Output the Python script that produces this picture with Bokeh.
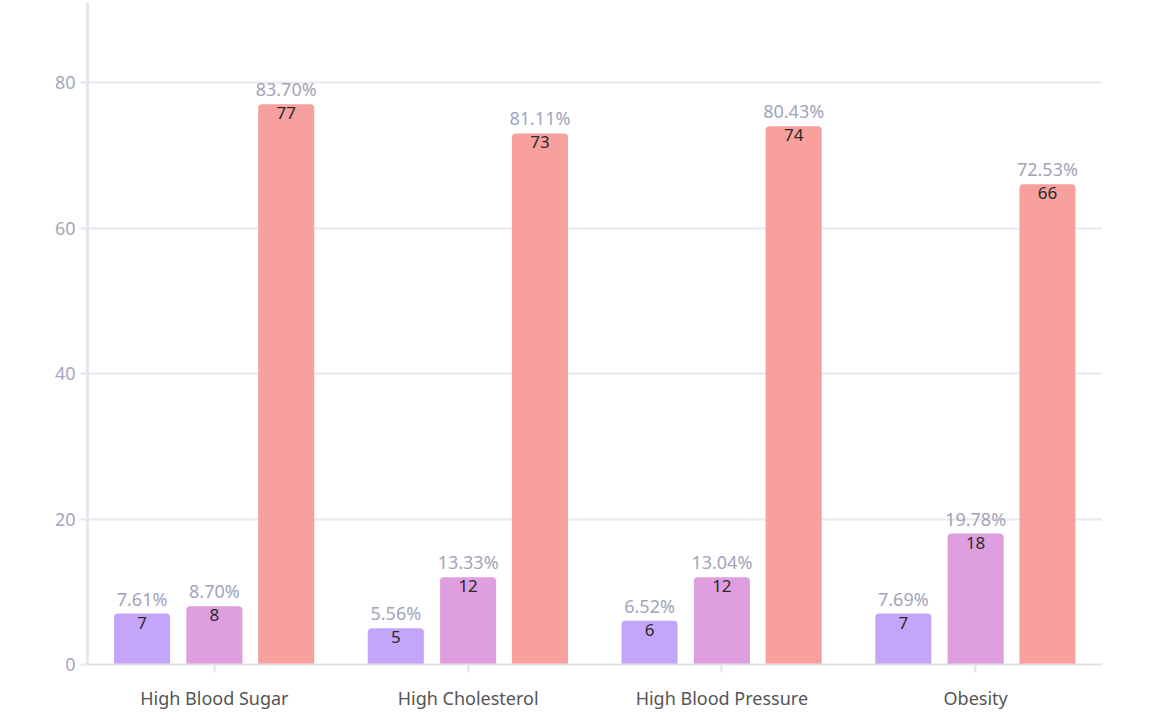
from bokeh.plotting import figure
from bokeh.models import ColumnDataSource, FactorRange, Range1d, FixedTicker
from bokeh.transform import dodge
from bokeh.core.properties import value
from bokeh.embed import file_html
from bokeh.resources import INLINE

categories = ["High Blood Sugar", "High Cholesterol", "High Blood Pressure", "Obesity"]
series1 = [7, 5, 6, 7]
pct1 = ["7.61%", "5.56%", "6.52%", "7.69%"]
series2 = [8, 12, 12, 18]
pct2 = ["8.70%", "13.33%", "13.04%", "19.78%"]
series3 = [77, 73, 74, 66]
pct3 = ["83.70%", "81.11%", "80.43%", "72.53%"]
y_ticks = [0, 20, 40, 60, 80]

colors = ["#C4A5FA", "#DE9EE0", "#F8A09E"]
FONT = "Noto Sans"

p = figure(
    x_range=FactorRange(*categories, range_padding=0),
    y_range=Range1d(0, 91.0),
    width=1142, height=712,
    output_backend="svg", toolbar_location=None,
    min_border_left=87, min_border_right=40, min_border_top=2, min_border_bottom=48,
)
p.outline_line_color = None
p.background_fill_color = "white"
p.border_fill_color = "white"

src = ColumnDataSource(dict(cat=categories, v1=series1, v2=series2, v3=series3,
                            p1=pct1, p2=pct2, p3=pct3,
                            t1=[str(v) for v in series1], t2=[str(v) for v in series2],
                            t3=[str(v) for v in series3]))

offsets = [-0.285, 0.0, 0.283]
for i, (off, col) in enumerate(zip(offsets, colors), start=1):
    x = dodge("cat", off, range=p.x_range)
    p.vbar(x=x, top=f"v{i}", width=0.221, source=src, fill_color=col, line_color=None,
           border_radius=(4, 4, 0, 0))
    p.text(x=x, y=f"v{i}", text=f"t{i}", source=src, text_align="center",
           text_baseline="middle", y_offset=9, text_font_size="17px",
           text_color="#2A2A2A", text_font=value(FONT))
    p.text(x=x, y=f"v{i}", text=f"p{i}", source=src, text_align="center",
           text_baseline="middle", y_offset=-15, text_font_size="18px",
           text_color="#A3A3BC", text_font=value(FONT))

p.xgrid.grid_line_color = None
p.ygrid.grid_line_color = "#E8E8F0"
p.ygrid.grid_line_width = 2
p.yaxis.ticker = FixedTicker(ticks=y_ticks)

p.yaxis.axis_line_color = "#E6E6EE"
p.yaxis.axis_line_width = 3
p.yaxis.major_tick_line_color = "#E6E6EE"
p.yaxis.major_tick_line_width = 2
p.yaxis.major_tick_out = 7
p.yaxis.major_tick_in = 0
p.yaxis.minor_tick_line_color = None
p.yaxis.major_label_standoff = 5
p.yaxis.major_label_text_font_size = "18px"
p.yaxis.major_label_text_color = "#A6A6BA"
p.yaxis.major_label_text_font = FONT

p.xaxis.axis_line_color = "#E0E0EB"
p.xaxis.axis_line_width = 2
p.xaxis.major_tick_line_color = "#E0E0EB"
p.xaxis.major_tick_line_width = 2
p.xaxis.major_tick_out = 8
p.xaxis.major_tick_in = 0
p.xaxis.minor_tick_line_color = None
p.xaxis.major_label_standoff = 13
p.xaxis.major_label_text_font_size = "18px"
p.xaxis.major_label_text_color = "#555555"
p.xaxis.major_label_text_font = FONT

open("out.html", "w").write(file_html(p, INLINE))
